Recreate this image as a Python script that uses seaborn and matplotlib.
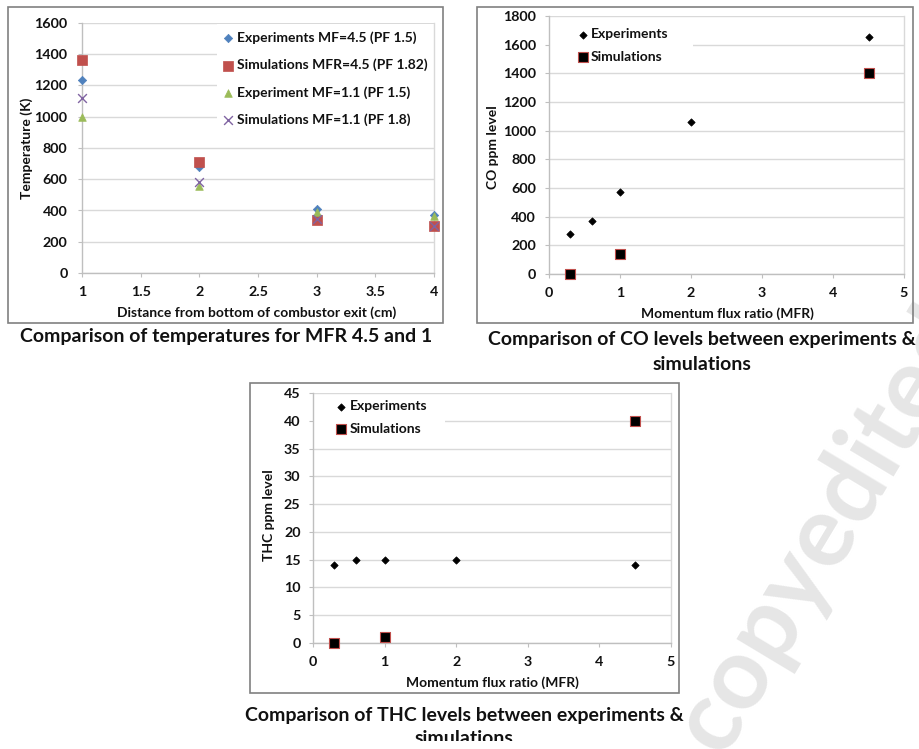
import matplotlib
matplotlib.use("Agg")
import matplotlib.pyplot as plt
import seaborn as sns
import pandas as pd
from matplotlib.patches import Rectangle
from matplotlib.transforms import Bbox, TransformedBbox

# ---------------- data ----------------
dist_cm = [1, 2, 3, 4]
temp_exp_mf45 = [1235, 680, 412, 372]
temp_sim_mfr45 = [1366, 708, 338, 300]
temp_exp_mf11 = [1000, 557, 388, 367]
temp_sim_mf11 = [1120, 584, 344, 302]
temp_labels = ["Experiments MF=4.5 (PF 1.5)", "Simulations MFR=4.5 (PF 1.82)",
               "Experiment MF=1.1 (PF 1.5)", "Simulations MF=1.1 (PF 1.8)"]

mfr_exp = [0.3, 0.6, 1.0, 2.0, 4.5]
co_exp = [280, 370, 575, 1057, 1650]
thc_exp = [14, 15, 15, 15, 14]
mfr_sim = [0.3, 1.0, 4.5]
co_sim = [0, 140, 1400]
thc_sim = [0, 1, 40]
emis_labels = ["Experiments", "Simulations"]

temp_xticks = [1, 1.5, 2, 2.5, 3, 3.5, 4]
temp_xticklabels = ["1", "1.5", "2", "2.5", "3", "3.5", "4"]
temp_yticks = [0, 200, 400, 600, 800, 1000, 1200, 1400, 1600]
mfr_xticks = [0, 1, 2, 3, 4, 5]
co_yticks = [0, 200, 400, 600, 800, 1000, 1200, 1400, 1600, 1800]
thc_yticks = [0, 5, 10, 15, 20, 25, 30, 35, 40, 45]

captions = ["Comparison of temperatures for MFR 4.5 and 1",
            "Comparison of CO levels between experiments &", "simulations",
            "Comparison of THC levels between experiments &", "simulations"]

# ---------------- style ----------------
sns.set_style("white")
plt.rcParams['font.family'] = ['Lato', 'DejaVu Sans']

W, H = 919, 749
fig = plt.figure(figsize=(W / 100, H / 100), dpi=100)


def fx(x):
    return x / W


def fy(y):
    return 1 - y / H


def add_ax(l, t, r, b):
    return fig.add_axes([fx(l), fy(b), (r - l) / W, (b - t) / H])


GRID = '#D9D9D9'
AXC = '#BFBFBF'
TXT = '#111111'
BLUE, RED, GREEN, PURPLE = '#4F81BD', '#C0504D', '#9BBB59', '#8064A2'
FS = 10.3


def style(ax, xlim, ylim, xt, xtl, yt, ypad):
    ax.set_xlim(xlim)
    ax.set_ylim(ylim)
    ax.set_xticks(xt)
    ax.set_xticklabels(xtl)
    ax.set_yticks(yt)
    ax.set_yticklabels([str(v) for v in yt])
    ax.set_xlabel('')
    ax.set_ylabel('')
    ax.grid(False)
    ax.yaxis.grid(True, color=GRID, lw=1.0)
    ax.set_axisbelow(True)
    for s in ['left', 'bottom']:
        ax.spines[s].set_color(AXC)
        ax.spines[s].set_linewidth(1.0)
    ax.spines['right'].set_color(GRID)
    ax.spines['right'].set_linewidth(1.0)
    ax.spines['top'].set_visible(False)
    ax.tick_params(axis='both', bottom=True, left=True, direction='out', length=3,
                   width=0.8, color=AXC, labelsize=FS, labelcolor=TXT)
    ax.tick_params(axis='x', pad=6.5)
    ax.tick_params(axis='y', pad=ypad)
    for lab in ax.get_xticklabels() + ax.get_yticklabels():
        lab.set_fontweight('bold')


def white_box(ax, l, t, r, b):
    ax.add_patch(Rectangle((fx(l), fy(b)), (r - l) / W, (b - t) / H,
                           transform=fig.transFigure, facecolor='white',
                           edgecolor='none', zorder=1))


def legend(ax, x, y, hl, htp, ls):
    h, l = ax.get_legend_handles_labels()
    ax.legend(h, l, loc='upper left', bbox_to_anchor=(fx(x), fy(y)),
              bbox_transform=fig.transFigure, frameon=False, borderpad=0,
              borderaxespad=0, handlelength=hl, handletextpad=htp,
              labelspacing=ls, scatterpoints=1,
              prop={'weight': 'bold', 'size': 10})
    for t in ax.get_legend().get_texts():
        t.set_color(TXT)


def frame(l, t, r, b):
    fig.add_artist(Rectangle((fx(l), fy(b)), (r - l) / W, (b - t) / H,
                             transform=fig.transFigure, fill=False,
                             edgecolor='#808080', lw=1.2))


lab_kw = dict(ha='center', va='center', fontsize=10, fontweight='bold', color=TXT)

# ---------------- panel 1: temperatures ----------------
ax1 = add_ax(82, 23, 434, 273)
kw = dict(ax=ax1, clip_on=False, zorder=3)
sns.scatterplot(x=dist_cm, y=temp_exp_mf45, marker='D', s=18, color=BLUE,
                edgecolor=BLUE, linewidth=0.5, label=temp_labels[0], **kw)
sns.scatterplot(x=dist_cm, y=temp_sim_mfr45, marker='s', s=42, color=RED,
                edgecolor=RED, linewidth=0.5, label=temp_labels[1], **kw)
sns.scatterplot(x=dist_cm, y=temp_exp_mf11, marker='^', s=30, color=GREEN,
                edgecolor=GREEN, linewidth=0.5, label=temp_labels[2], **kw)
sns.scatterplot(x=dist_cm, y=temp_sim_mf11, marker='x', s=40, color=PURPLE,
                linewidth=1.0, label=temp_labels[3], **kw)
style(ax1, (1, 4), (0, 1600), temp_xticks, temp_xticklabels, temp_yticks, 7.5)
white_box(ax1, 217, 24, 436, 136)
legend(ax1, 222.5, 31.5, 0.8, 0.245, 1.05)
fig.text(fx(257), fy(313), "Distance from bottom of combustor exit (cm)", **lab_kw)
fig.text(fx(27), fy(148), "Temperature (K)", rotation=90, **lab_kw)
frame(8, 7, 443, 323)

# ---------------- panel 2: CO ----------------
ax2 = add_ax(549, 16, 904, 274)
kw = dict(ax=ax2, clip_on=False, zorder=3)
sns.scatterplot(x=mfr_exp, y=co_exp, marker='D', s=14, color='black',
                edgecolor='black', linewidth=0.5, label=emis_labels[0], **kw)
sns.scatterplot(x=mfr_sim, y=co_sim, marker='s', s=44, color='black',
                edgecolor=RED, linewidth=0.8, label=emis_labels[1], **kw)
style(ax2, (0, 5), (0, 1800), mfr_xticks, [str(v) for v in mfr_xticks], co_yticks, 6.5)
white_box(ax2, 550, 20, 693, 66)
legend(ax2, 578.8, 28.3, 0.6, 0.28, 0.76)
fig.text(fx(727), fy(314), "Momentum flux ratio (MFR)", **lab_kw)
fig.text(fx(493), fy(147), "CO ppm level", rotation=90, **lab_kw)
frame(477, 7, 913, 323)

# ---------------- panel 3: THC ----------------
ax3 = add_ax(313, 393, 671, 643)
kw = dict(ax=ax3, clip_on=False, zorder=3)
sns.scatterplot(x=mfr_exp, y=thc_exp, marker='D', s=14, color='black',
                edgecolor='black', linewidth=0.5, label=emis_labels[0], **kw)
sns.scatterplot(x=mfr_sim, y=thc_sim, marker='s', s=44, color='black',
                edgecolor=RED, linewidth=0.8, label=emis_labels[1], **kw)
style(ax3, (0, 5), (0, 45), mfr_xticks, [str(v) for v in mfr_xticks], thc_yticks, 6)
white_box(ax3, 314, 397, 445, 443)
legend(ax3, 336.8, 400.3, 0.6, 0.35, 0.76)
fig.text(fx(492), fy(683), "Momentum flux ratio (MFR)", **lab_kw)
fig.text(fx(269), fy(515), "THC ppm level", rotation=90, **lab_kw)
frame(250, 383, 679, 693)

# ---------------- captions ----------------
cap_kw = dict(ha='center', va='center', fontsize=14, fontweight='bold', color=TXT)
fig.text(fx(226), fy(336), captions[0], **cap_kw)
fig.text(fx(702), fy(340), captions[1], **cap_kw)
fig.text(fx(702), fy(364), captions[2], **cap_kw)
fig.text(fx(464), fy(715), captions[3], **cap_kw)
t_last = fig.text(fx(464), fy(739), captions[4], **cap_kw)
t_last.set_clip_box(TransformedBbox(Bbox([[0, fy(741)], [1, 1]]), fig.transFigure))
t_last.set_clip_on(True)

# ---------------- watermark ----------------
fig.text(fx(826), fy(529), "copyedited", rotation=59, ha='center', va='center',
         fontsize=72, fontweight='bold', color='#E6E6E6', zorder=-5)

fig.savefig("out.png", dpi=100)
